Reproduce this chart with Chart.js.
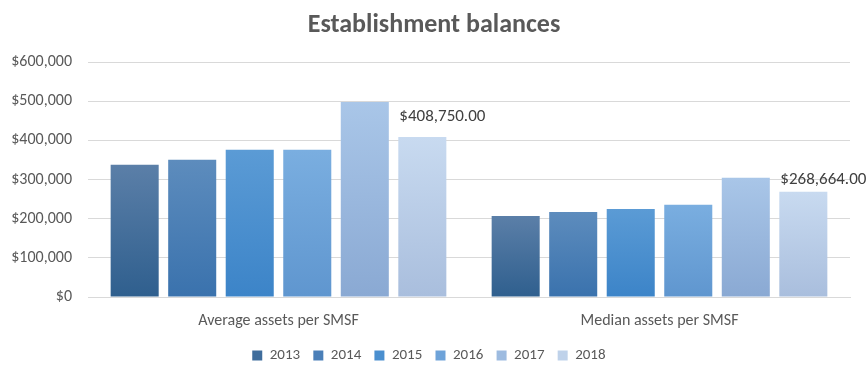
<!DOCTYPE html>
<html>
<head>
<meta charset="utf-8">
<script src="https://cdn.jsdelivr.net/npm/chart.js@4.4.1/dist/chart.umd.min.js"></script>
<style>
  html, body { margin: 0; padding: 0; background: #fff; }
  #wrap { width: 868px; height: 369px; position: relative; }
</style>
</head>
<body>
<div id="wrap"><canvas id="chart"></canvas></div>
<script>
// ---------------------------------------------------------------------------
// Data
// ---------------------------------------------------------------------------
const categories = ['Average assets per SMSF', 'Median assets per SMSF'];
const years      = ['2013', '2014', '2015', '2016', '2017', '2018'];

const v2013 = [338000, 207000];
const v2014 = [351000, 217000];
const v2015 = [376000, 225000];
const v2016 = [376000, 236000];
const v2017 = [498000, 305000];
const v2018 = [408750, 268664];

const yTicks = [0, 100000, 200000, 300000, 400000, 500000, 600000];

// top / bottom colours of each year's gradient
const topColors    = ['#5b7fa8', '#5d8cbd', '#5b9bd5', '#7aaee0', '#a9c6e8', '#c8daf0'];
const bottomColors = ['#2f5f8e', '#3a72ad', '#3c84c8', '#5f96cf', '#8aa9d3', '#a9bedd'];
const legendColors = ['#3f6d9c', '#4a7fb8', '#4a8fcf', '#6ea3d9', '#9dbbe0', '#bfd2ea'];

const FONT = 'Carlito, Lato, "Open Sans", sans-serif';
const GREY = '#595959';

const money = new Intl.NumberFormat('en-US', { style: 'currency', currency: 'USD', maximumFractionDigits: 0 });
const money2 = new Intl.NumberFormat('en-US', { style: 'currency', currency: 'USD', minimumFractionDigits: 2 });

// gradient running from the top of each bar down to the axis
function barGradient(i) {
  return (ctx) => {
    const chart = ctx.chart;
    if (!chart.chartArea || ctx.raw == null) return bottomColors[i];
    const y = chart.scales.y;
    const top = y.getPixelForValue(ctx.raw);
    const base = y.getPixelForValue(0);
    const g = chart.ctx.createLinearGradient(0, top, 0, base);
    g.addColorStop(0, topColors[i]);
    g.addColorStop(1, bottomColors[i]);
    return g;
  };
}

const seriesValues = [v2013, v2014, v2015, v2016, v2017, v2018];
const datasets = years.map((yr, i) => ({
  label: yr,
  data: seriesValues[i],
  backgroundColor: barGradient(i),
  borderWidth: 0,
  categoryPercentage: 0.906,
  barPercentage: 0.835,
}));

// value labels on the 2018 series only
const lastLabels = {
  id: 'lastLabels',
  afterDatasetsDraw(chart) {
    const idx = chart.data.datasets.length - 1;
    const meta = chart.getDatasetMeta(idx);
    const c = chart.ctx;
    c.save();
    c.font = '17px ' + FONT;
    c.fillStyle = '#404040';
    c.textAlign = 'left';
    c.textBaseline = 'middle';
    meta.data.forEach((bar, j) => {
      const val = chart.data.datasets[idx].data[j];
      c.fillText(money2.format(val), bar.x - bar.width / 2 + 1, bar.y - (j === 0 ? 20 : 12));
    });
    c.restore();
  }
};

// centre title and legend on the whole canvas, not on the padded box
const centreBlocks = {
  id: 'centreBlocks',
  afterLayout(chart) {
    if (chart.titleBlock) chart.titleBlock.right = chart.width;
    if (chart.legend) chart.legend.right = chart.width;
  }
};

new Chart(document.getElementById('chart'), {
  type: 'bar',
  data: { labels: categories, datasets },
  options: {
    responsive: true,
    maintainAspectRatio: false,
    animation: false,
    layout: { padding: { left: 0, right: 18, top: 0, bottom: -4 } },
    plugins: {
      title: {
        display: true,
        text: 'Establishment balances',
        color: GREY,
        font: { family: FONT, size: 26, weight: 'bold' },
        padding: { top: 10, bottom: 21 },
      },
      legend: {
        position: 'bottom',
        labels: {
          color: GREY,
          font: { family: FONT, size: 15 },
          boxWidth: 10,
          boxHeight: 10,
          padding: 3,
          generateLabels: (chart) => years.map((yr, i) => ({
            text: yr + '   ',
            fillStyle: legendColors[i],
            strokeStyle: legendColors[i],
            lineWidth: 0,
            fontColor: GREY,
            datasetIndex: i,
          })),
        },
      },
      tooltip: { enabled: false },
    },
    scales: {
      x: {
        grid: { display: false, drawTicks: false },
        border: { display: true, color: '#d9d9d9', width: 1 },
        ticks: { color: GREY, font: { family: FONT, size: 16, lineHeight: 2.375 }, padding: 5 },
      },
      y: {
        min: 0,
        max: 600000,
        afterBuildTicks: (axis) => { axis.ticks = yTicks.map(v => ({ value: v })); },
        afterFit: (axis) => { axis.width = 88; },
        grid: { color: '#d9d9d9', drawTicks: false },
        border: { display: false },
        ticks: {
          color: GREY,
          font: { family: FONT, size: 16 },
          padding: 16,
          callback: (v) => money.format(v),
        },
      },
    },
  },
  plugins: [lastLabels, centreBlocks],
});
</script>
</body>
</html>
